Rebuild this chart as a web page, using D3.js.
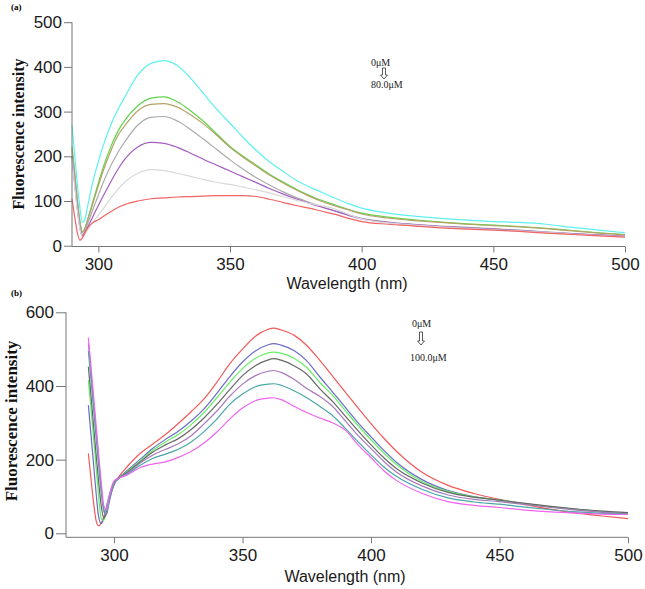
<!DOCTYPE html>
<html>
<head>
<meta charset="utf-8">
<script src="https://cdn.jsdelivr.net/npm/d3@7"></script>
<style>
  body { margin: 0; background: #fff; }
  svg { display: block; }
  .tick text { font-family: Arial, "Liberation Sans", sans-serif; font-size: 17px; fill: #1a1a1a; }
</style>
</head>
<body>
<svg id="chart" width="645" height="589"></svg>
<script>
// ---- panel (a) data: wavelength (nm) and intensity, 0uM -> 80.0uM ----
const wlA = [290, 291, 292, 293, 294, 295, 296, 297, 298, 300, 302, 305, 308, 310, 315, 320, 325, 330, 335, 340,
  345, 350, 355, 360, 365, 370, 375, 380, 385, 390, 395, 400, 410, 420, 430, 440, 450, 460, 470, 480, 490, 500];
const aCyan = [270, 205, 140, 85, 52, 62, 90, 118, 145, 188, 226, 274, 311, 332, 382, 408, 414, 403, 375, 340,
  305, 274, 242, 213, 188, 167, 147, 132, 119, 106, 94, 84, 73, 66, 61, 57, 54, 52, 48, 41, 35, 29];
const aGreen = [222, 165, 105, 55, 31, 40, 60, 80, 100, 140, 178, 225, 262, 280, 313, 330, 333, 322, 302, 278,
  250, 222, 200, 180, 160, 143, 127, 113, 101, 91, 81, 73, 64, 58, 53, 49, 46, 43, 39, 34, 29, 25];
const aOlive = [215, 160, 100, 52, 30, 40, 58, 77, 96, 134, 170, 216, 252, 268, 302, 316, 318, 310, 293, 272,
  247, 220, 198, 178, 158, 141, 125, 111, 99, 89, 80, 71, 62, 56, 52, 48, 45, 42, 38, 33, 28, 24];
const aGray = [200, 145, 90, 45, 25, 34, 50, 66, 82, 113, 143, 182, 214, 232, 270, 287, 289, 279, 260, 238,
  215, 192, 171, 152, 136, 121, 108, 97, 87, 78, 69, 61, 53, 48, 44, 41, 38, 35, 31, 27, 24, 21];
const aPurple = [200, 140, 85, 40, 22, 30, 42, 54, 66, 90, 113, 146, 176, 193, 221, 231, 229, 220, 207, 193,
  180, 167, 154, 141, 128, 116, 105, 95, 86, 77, 68, 60, 52, 47, 43, 40, 37, 34, 30, 27, 24, 21];
const aSilver = [195, 135, 80, 38, 20, 27, 36, 45, 53, 68, 84, 108, 130, 142, 162, 170, 168, 162, 155, 148,
  142, 137, 131, 125, 118, 110, 102, 95, 89, 82, 70, 60, 51, 46, 42, 39, 36, 33, 30, 26, 23, 20];
const aRed = [105, 65, 30, 12, 18, 30, 40, 47, 52, 58, 66, 77, 87, 92, 100, 105, 107, 109, 110, 111,
  112, 112, 112, 110, 104, 97, 90, 84, 77, 70, 61, 54, 48, 44, 40, 37, 35, 32, 28, 25, 22, 19];

// ---- panel (b) data: 0uM -> 100.0uM ----
const wlB = [290, 291, 292, 293, 294, 295, 296, 297, 298, 299, 300, 302, 305, 310, 315, 320, 325, 330, 335, 340,
  345, 350, 355, 360, 362, 365, 370, 375, 380, 385, 390, 395, 400, 405, 410, 420, 430, 440, 450, 460, 470, 480, 490, 500];
const bRed = [217, 150, 85, 35, 20, 28, 45, 65, 88, 112, 132, 155, 180, 216, 242, 268, 298, 330, 365, 410,
  460, 500, 535, 554, 557, 552, 538, 510, 470, 427, 383, 340, 298, 258, 222, 165, 130, 108, 92, 78, 65, 55, 47, 40];
const bBlue = [348, 270, 190, 110, 45, 26, 40, 70, 100, 122, 138, 152, 170, 200, 230, 255, 277, 305, 338, 380,
  425, 465, 495, 512, 515, 511, 496, 468, 425, 384, 342, 300, 262, 225, 192, 145, 116, 100, 90, 80, 72, 65, 59, 55];
const bGreen = [416, 340, 260, 180, 100, 40, 35, 62, 95, 120, 137, 150, 167, 196, 225, 248, 268, 295, 328, 368,
  410, 447, 475, 490, 492, 489, 475, 450, 410, 375, 333, 292, 254, 218, 186, 140, 114, 99, 90, 80, 72, 65, 59, 54];
const bGray = [452, 375, 295, 215, 140, 75, 42, 55, 88, 115, 135, 150, 165, 193, 220, 240, 257, 282, 313, 350,
  390, 428, 455, 471, 474, 470, 455, 432, 393, 358, 318, 278, 240, 205, 175, 136, 111, 98, 90, 81, 73, 66, 60, 56];
const bMauve = [516, 440, 360, 280, 200, 125, 60, 50, 80, 110, 132, 150, 162, 190, 212, 228, 243, 265, 297, 332,
  372, 405, 428, 440, 442, 437, 418, 393, 372, 345, 305, 265, 230, 195, 166, 128, 104, 92, 86, 78, 70, 63, 57, 53];
const bTeal = [495, 420, 340, 262, 185, 110, 65, 55, 85, 115, 135, 150, 160, 184, 203, 215, 228, 248, 276, 310,
  350, 378, 398, 405, 406, 402, 387, 368, 345, 320, 285, 248, 213, 180, 154, 119, 96, 85, 79, 71, 64, 58, 54, 52];
const bMagenta = [531, 455, 375, 295, 215, 140, 75, 62, 95, 125, 142, 150, 158, 178, 188, 194, 206, 222, 245, 275,
  310, 340, 360, 367, 368, 363, 345, 328, 313, 300, 280, 240, 205, 170, 143, 108, 86, 76, 70, 63, 58, 55, 52, 51];

const ticksA = [0, 100, 200, 300, 400, 500];
const ticksB = [0, 200, 400, 600];
const xTicks = [300, 350, 400, 450, 500];

const svg = d3.select('#chart');

function drawPanel(p) {
  const g = svg.append('g');
  const x = d3.scaleLinear().domain(p.xDomain).range(p.xRange);
  const y = d3.scaleLinear().domain(p.yDomain).range(p.yRange);
  const axisY = p.axisY;

  // curves
  const line = d3.line()
    .x(d => x(d[0]))
    .y(d => y(d[1]))
    .curve(d3.curveMonotoneX);
  p.series.forEach(s => {
    g.append('path')
      .datum(p.wl.map((w, i) => [w, s.values[i]]))
      .attr('d', line)
      .attr('fill', 'none')
      .attr('stroke', s.color)
      .attr('stroke-width', 1.2);
  });

  // y axis
  const ya = g.append('g')
    .attr('transform', `translate(${p.xRange[0]},0)`)
    .call(d3.axisLeft(y).tickValues(p.yTicks).tickSize(p.yTickSize).tickPadding(2).tickSizeOuter(0));
  ya.select('.domain').remove();
  ya.selectAll('.tick line').attr('stroke', '#777');
  g.append('line')
    .attr('x1', p.xRange[0]).attr('x2', p.xRange[0])
    .attr('y1', y(p.yDomain[1])).attr('y2', axisY)
    .attr('stroke', '#777');

  // x axis
  const xa = g.append('g')
    .attr('transform', `translate(0,${axisY})`)
    .call(d3.axisBottom(x).tickValues(xTicks).tickSize(6).tickPadding(p.xPad).tickSizeOuter(0));
  xa.select('.domain').remove();
  xa.selectAll('.tick line').attr('stroke', '#777');
  g.append('line')
    .attr('x1', p.xRange[0]).attr('x2', p.xRange[1])
    .attr('y1', axisY).attr('y2', axisY)
    .attr('stroke', '#777');

  g.append('text')
    .attr('x', p.xLabel[0]).attr('y', p.xLabel[1])
    .attr('text-anchor', 'middle')
    .style('font-family', 'Arial, "Liberation Sans", sans-serif')
    .style('font-size', '16px')
    .attr('fill', '#1a1a1a')
    .text('Wavelength (nm)');

  g.append('text')
    .attr('transform', `translate(${p.yLabel[0]},${p.yLabel[1]}) rotate(-90)`)
    .attr('text-anchor', 'middle')
    .style('font-family', '"Liberation Serif", "Times New Roman", serif')
    .style('font-weight', 'bold')
    .style('font-size', p.yLabelSize + 'px')
    .attr('fill', '#111')
    .text('Fluorescence intensity');

  g.append('text')
    .attr('x', p.tag[0]).attr('y', p.tag[1])
    .style('font-family', '"Liberation Serif", "Times New Roman", serif')
    .style('font-weight', 'bold')
    .style('font-size', '9px')
    .text(p.tagText);

  // concentration note with hollow arrow
  const n = p.note;
  const serif = '"Liberation Serif", "Times New Roman", serif';
  g.append('text').attr('x', n.x).attr('y', n.y1)
    .style('font-family', serif).style('font-size', '10px').attr('fill', '#222').text('0μM');
  g.append('text').attr('x', n.x2).attr('y', n.y2)
    .style('font-family', serif).style('font-size', '10px').attr('fill', '#222').text(n.end);
  const ax = n.ax, at = n.at, ah = n.ah;
  g.append('path')
    .attr('d', `M${ax - 1.5},${at} L${ax + 1.5},${at} L${ax + 1.5},${at + ah - 4} L${ax + 3.5},${at + ah - 4}
      L${ax},${at + ah} L${ax - 3.5},${at + ah - 4} L${ax - 1.5},${at + ah - 4} Z`)
    .attr('fill', 'none')
    .attr('stroke', '#333')
    .attr('stroke-width', 0.8);
}

drawPanel({
  wl: wlA,
  series: [
    { values: aCyan, color: '#5cf0f0' },
    { values: aGreen, color: '#5fd34c' },
    { values: aOlive, color: '#b4a266' },
    { values: aGray, color: '#aaaaaa' },
    { values: aPurple, color: '#a45cc0' },
    { values: aSilver, color: '#d9d9d9' },
    { values: aRed, color: '#f06464' }
  ],
  xDomain: [290, 500], xRange: [72, 625],
  yDomain: [0, 500], yRange: [245.7, 22.2],
  axisY: 246.5, yTicks: ticksA, yTickSize: 8, xPad: 5,
  xLabel: [347, 289], yLabel: [23.5, 134], yLabelSize: 16,
  tag: [11, 10], tagText: '(a)',
  note: { x: 371, y1: 66, x2: 371, y2: 88, end: '80.0μM', ax: 384, at: 68, ah: 11 }
});

drawPanel({
  wl: wlB,
  series: [
    { values: bRed, color: '#f05a5a' },
    { values: bBlue, color: '#6b6bc6' },
    { values: bGreen, color: '#66ee66' },
    { values: bGray, color: '#666666' },
    { values: bMauve, color: '#a87ab8' },
    { values: bTeal, color: '#4aa6a6' },
    { values: bMagenta, color: '#f064f0' }
  ],
  xDomain: [281.3, 500], xRange: [66, 628],
  yDomain: [0, 600], yRange: [533.3, 312.3],
  axisY: 537.3, yTicks: ticksB, yTickSize: 10, xPad: 6,
  xLabel: [345, 582], yLabel: [17, 421], yLabelSize: 17,
  tag: [11, 296], tagText: '(b)',
  note: { x: 412, y1: 327, x2: 410, y2: 361, end: '100.0μM', ax: 421, at: 332, ah: 13 }
});
</script>
</body>
</html>
